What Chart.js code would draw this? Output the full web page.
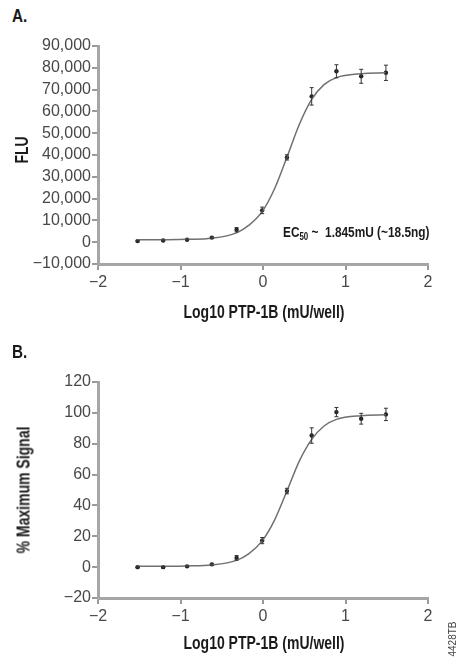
<!DOCTYPE html>
<html>
<head>
<meta charset="utf-8">
<script src="https://cdn.jsdelivr.net/npm/chart.js@4.4.1/dist/chart.umd.min.js"></script>
<style>
  body { margin: 0; background: #fff; }
  #wrap { position: relative; width: 459px; height: 658px; overflow: hidden; }
  canvas { position: absolute; left: 0; }
  /* Arial bold squeezed to look like the condensed face of the original */
  .cond { position: absolute; font-family: "Liberation Sans", Arial, sans-serif; font-weight: bold; color: #1a1a1a; white-space: nowrap; }
  .panel { left: 12px; font-size: 18px; transform-origin: 0 0; transform: scaleX(0.85); }
  .xtitle { font-size: 17.5px; transform: translate(-50%, -50%) scaleX(0.8); }
  .ytitle { font-size: 17.5px; transform: translate(-50%, -50%) rotate(-90deg) scaleX(0.8); }
  .ec50 { left: 283px; top: 223px; font-size: 15px; transform-origin: 0 0; transform: scaleX(0.79); }
  .ec50 sub { font-size: 10px; vertical-align: -3px; }
  .code { position: absolute; left: 452px; top: 639px; transform: translate(-50%, -50%) rotate(-90deg); font: 10px "Liberation Sans", Arial, sans-serif; color: #444; white-space: nowrap; }
</style>
</head>
<body>
<div id="wrap">
  <div class="cond panel" style="top:6px">A.</div>
  <canvas id="chartA" width="459" height="330" style="top:0"></canvas>
  <div class="cond ec50">EC<sub>50</sub> ~&nbsp; 1.845mU (~18.5ng)</div>
  <div class="cond ytitle" style="left:22px; top:150px">FLU</div>
  <div class="cond xtitle" style="left:264px; top:312px">Log10 PTP-1B (mU/well)</div>

  <div class="cond panel" style="top:342px">B.</div>
  <canvas id="chartB" width="459" height="328" style="top:330px"></canvas>
  <div class="cond ytitle" style="left:24px; top:490px">% Maximum Signal</div>
  <div class="cond xtitle" style="left:264px; top:643px">Log10 PTP-1B (mU/well)</div>
  <div class="code">4428TB</div>
</div>
<script>
// log10 of PTP-1B amount per well (mU), one per dilution
const logDose = [-1.52, -1.21, -0.92, -0.62, -0.32, -0.01, 0.29, 0.59, 0.89, 1.19, 1.49];

// panel A: raw fluorescence, mean and error
const fluA = [500, 800, 1100, 2100, 5700, 14600, 38900, 66900, 78400, 76100, 77700];
const errA = [300, 300, 300, 400, 1000, 1500, 1200, 4000, 3000, 3200, 3500];

// panel B: percent of maximum signal
const pctB = [0, 0, 0.5, 1.8, 6, 17.2, 49.3, 85.3, 100.5, 96.2, 99];
const errB = [0.4, 0.4, 0.4, 0.6, 1.5, 2, 1.8, 5, 3, 3.5, 4];

// fitted curve
const fitX = [-1.52, -1.21, -0.92, -0.62, -0.32, -0.17, -0.01, 0.14, 0.29, 0.44, 0.59, 0.74, 0.89, 1.19, 1.49];
const fitA = [1100, 1150, 1300, 1800, 4300, 7800, 14000, 24500, 39000, 54000, 65500, 72300, 75500, 77300, 77700];
const fitB = [0.5, 0.6, 0.8, 1.4, 4.4, 8.8, 17, 30.5, 49.3, 68.7, 82.8, 91.5, 95.8, 98.2, 98.7];

const xTicks = [-2, -1, 0, 1, 2];
const yTicksA = [-10000, 0, 10000, 20000, 30000, 40000, 50000, 60000, 70000, 80000, 90000];
const yTicksB = [-20, 0, 20, 40, 60, 80, 100, 120];

const plain = '"Liberation Sans", Arial, sans-serif';

const minus = (s) => s.replace('-', '\u2212');

// small vertical error bars with caps
const errorBars = {
    id: 'errorBars',
    afterDatasetsDraw(chart) {
        const ds = chart.data.datasets[1];
        const xs = chart.scales.x, ys = chart.scales.y;
        const c = chart.ctx;
        c.save();
        c.strokeStyle = '#333';
        c.lineWidth = 1;
        ds.data.forEach((p, i) => {
            const e = ds.err[i];
            const px = xs.getPixelForValue(p.x);
            const top = ys.getPixelForValue(p.y + e);
            const bot = ys.getPixelForValue(p.y - e);
            c.beginPath();
            c.moveTo(px, top); c.lineTo(px, bot);
            c.moveTo(px - 2, top); c.lineTo(px + 2, top);
            c.moveTo(px - 2, bot); c.lineTo(px + 2, bot);
            c.stroke();
        });
        c.restore();
    }
};

const makeChart = (id, ys, err, fit, yTicks, fmt, chartTop, xBox) => {
    const canvas = document.getElementById(id);
    return new Chart(canvas, {
        type: 'scatter',
        data: {
            datasets: [
                {
                    data: fitX.map((x, i) => ({ x: x, y: fit[i] })),
                    showLine: true,
                    cubicInterpolationMode: 'monotone',
                    borderColor: '#707070',
                    borderWidth: 1.5,
                    pointRadius: 0,
                },
                {
                    data: logDose.map((x, i) => ({ x: x, y: ys[i] })),
                    err: err,
                    pointRadius: 2.2,
                    pointBackgroundColor: '#222',
                    pointBorderColor: '#222',
                    pointBorderWidth: 0,
                },
            ],
        },
        options: {
            responsive: false,
            animation: false,
            layout: { padding: { top: chartTop, right: 31, left: 0, bottom: 0 } },
            plugins: { legend: { display: false }, tooltip: { enabled: false } },
            scales: {
                x: {
                    type: 'linear',
                    min: -2, max: 2,
                    afterBuildTicks: (s) => { s.ticks = xTicks.map(v => ({ value: v })); },
                    afterFit: (s) => { s.height = xBox; },
                    grid: { drawOnChartArea: false, color: '#9a9a9a', lineWidth: 2, tickLength: 6 },
                    border: { color: '#a6a6a6', width: 3 },
                    ticks: {
                        autoSkip: false,
                        maxRotation: 0,
                        padding: 3,
                        color: '#484848',
                        font: { family: plain, size: 16 },
                        callback: (v) => minus(String(v)),
                    },
                },
                y: {
                    min: yTicks[0], max: yTicks[yTicks.length - 1],
                    afterBuildTicks: (s) => { s.ticks = yTicks.map(v => ({ value: v })); },
                    afterFit: (s) => { s.width = 98; },
                    grid: { drawOnChartArea: false, color: '#9a9a9a', lineWidth: 2, tickLength: 6 },
                    border: { color: '#a6a6a6', width: 3 },
                    ticks: {
                        autoSkip: false,
                        padding: 1,
                        color: '#484848',
                        font: { family: plain, size: 16 },
                        callback: fmt,
                    },
                },
            },
        },
        plugins: [errorBars],
    });
};

makeChart('chartA', fluA, errA, fitA, yTicksA,
    (v) => minus(v.toLocaleString('en-US')), 46, 66);
makeChart('chartB', pctB, errB, fitB, yTicksB,
    (v) => minus(String(v)), 52, 60);
</script>
</body>
</html>
